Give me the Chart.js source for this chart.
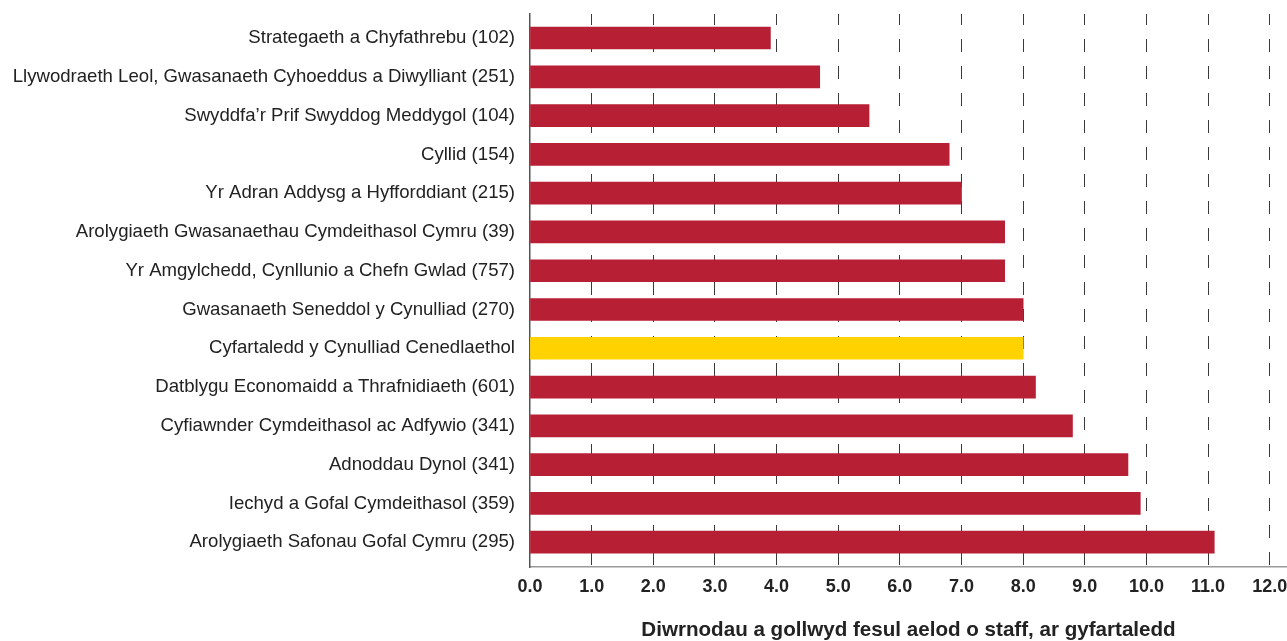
<!DOCTYPE html>
<html>
<head>
<meta charset="utf-8">
<script src="https://cdn.jsdelivr.net/npm/chart.js@4"></script>
<style>
  html, body { margin: 0; padding: 0; background: #ffffff; }
  #wrap { width: 1287px; height: 641px; position: relative; }
</style>
</head>
<body>
<div id="wrap"><canvas id="c" width="1287" height="641"></canvas></div>
<script>
const categories = [
  "Strategaeth a Chyfathrebu (102)",
  "Llywodraeth Leol, Gwasanaeth Cyhoeddus a Diwylliant (251)",
  "Swyddfa\u2019r Prif Swyddog Meddygol (104)",
  "Cyllid (154)",
  "Yr Adran Addysg a Hyfforddiant (215)",
  "Arolygiaeth Gwasanaethau Cymdeithasol Cymru (39)",
  "Yr Amgylchedd, Cynllunio a Chefn Gwlad (757)",
  "Gwasanaeth Seneddol y Cynulliad (270)",
  "Cyfartaledd y Cynulliad Cenedlaethol",
  "Datblygu Economaidd a Thrafnidiaeth (601)",
  "Cyfiawnder Cymdeithasol ac Adfywio (341)",
  "Adnoddau Dynol (341)",
  "Iechyd a Gofal Cymdeithasol (359)",
  "Arolygiaeth Safonau Gofal Cymru (295)"
];
const daysLost = [3.9, 4.7, 5.5, 6.8, 7.0, 7.7, 7.7, 8.0, 8.0, 8.2, 8.8, 9.7, 9.9, 11.1];
const averageLabel = "Cyfartaledd y Cynulliad Cenedlaethol";
const xTicks = [0, 1, 2, 3, 4, 5, 6, 7, 8, 9, 10, 11, 12];
const xTitle = "Diwrnodau a gollwyd fesul aelod o staff, ar gyfartaledd";

const RED = "#B71F34";
const YELLOW = "#FFD200";
const FONT = "'Liberation Sans', Arial, Helvetica, sans-serif";

const points = categories.map((c, i) => ({ x: daysLost[i], y: i }));
const colors = categories.map(c => c === averageLabel ? YELLOW : RED);

new Chart(document.getElementById("c"), {
  type: "bar",
  data: {
    datasets: [{
      data: points,
      backgroundColor: colors,
      borderWidth: 0,
      barThickness: 22
    }]
  },
  options: {
    indexAxis: "y",
    responsive: false,
    animation: false,
    layout: { padding: { top: 14, right: 0, left: 0, bottom: 0 } },
    plugins: { legend: { display: false }, tooltip: { enabled: false } },
    scales: {
      x: {
        type: "linear",
        position: "bottom",
        offset: false,
        min: 0,
        max: 12.28,
        afterBuildTicks: (scale) => { scale.ticks = xTicks.map(v => ({ value: v })); },
        afterFit: (scale) => { scale.height = 74; scale.paddingLeft = 0; scale.paddingRight = 0; },
        ticks: {
          autoSkip: false,
          maxRotation: 0,
          padding: 9,
          color: "#222",
          font: { family: FONT, size: 18, weight: "bold" },
          callback: (v) => Number(v).toFixed(1)
        },
        grid: {
          offset: false,
          drawTicks: false,
          lineWidth: 1,
          color: (ctx) => (ctx.tick && ctx.tick.value === 0) ? "rgba(0,0,0,0)" : "#3a3a3a"
        },
        border: { display: true, color: "#999", width: 1.5, dash: [13, 14], dashOffset: 2 },
        title: {
          display: true,
          text: xTitle,
          color: "#222",
          font: { family: FONT, size: 20.6, weight: "bold", lineHeight: 1.0 },
          padding: { top: 0, bottom: 0 }
        }
      },
      y: {
        type: "linear",
        reverse: true,
        offset: false,
        min: -0.62,
        max: 13.64,
        afterBuildTicks: (scale) => { scale.ticks = categories.map((c, i) => ({ value: i })); },
        afterFit: (scale) => { scale.width = 530; scale.paddingTop = 0; scale.paddingBottom = 0; },
        ticks: {
          autoSkip: false,
          padding: 15,
          color: "#222",
          font: { family: FONT, size: 18.6 },
          callback: (v) => categories[v]
        },
        grid: { display: false, drawTicks: false, offset: false },
        border: { display: true, color: "#555", width: 1.5 }
      }
    }
  }
});
</script>
</body>
</html>
